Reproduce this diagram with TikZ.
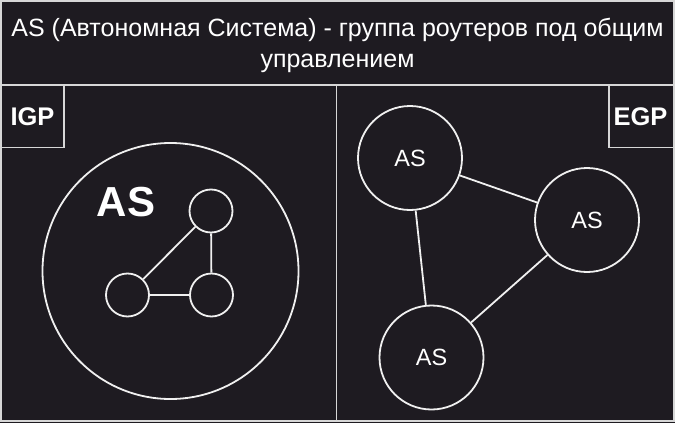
\documentclass[tikz,border=0pt]{standalone}
\usepackage{fontspec}
\setmainfont{Liberation Sans}
\definecolor{bg}{RGB}{30,27,33}
\definecolor{ln}{RGB}{240,240,240}
\definecolor{fr}{RGB}{215,215,215}
\begin{document}
\begin{tikzpicture}[x=1pt,y=-1pt,
  frame/.style={draw=fr,line width=1.8pt},
  circ/.style={circle,draw=ln,line width=1.8pt,inner sep=0pt},
  link/.style={draw=ln,line width=1.8pt},
  lbl/.style={text=white,font=\fontsize{23.5}{26}\selectfont}]
\fill[bg] (0,0) rectangle (675,423);
\useasboundingbox (0,0) rectangle (675,423);
% frames
\draw[frame] (1,1) rectangle (674,421);
\draw[frame] (1,85) -- (674,85);
\draw[frame] (336.5,85) -- (336.5,421);
\draw[frame] (1,85) rectangle (64,147.5);
\draw[frame] (609,85) rectangle (674,147.5);
\node[text=white,font=\bfseries\fontsize{25.5}{28}\selectfont] (igpt) at (32.5,116.5) {IGP};
\node[text=white,font=\bfseries\fontsize{25.5}{28}\selectfont] (egpt) at (640.5,116.5) {EGP};
% title
\node[text=white,align=center,font=\fontsize{25}{31}\selectfont] (title) at (337.5,45) {AS (Автономная Система) - группа роутеров под общим\\управлением};
% left: big AS
\node[circ,minimum size=256pt] (big) at (170.5,271) {};
\node[text=white,font=\bfseries\fontsize{42}{44}\selectfont] (bigas) at (126,202) {AS};
\node[circ,minimum size=43pt] (r1) at (211,211) {};
\node[circ,minimum size=43pt] (r2) at (127.5,295) {};
\node[circ,minimum size=43pt] (r3) at (211.5,295) {};
\draw[link] (r1) -- (r2);
\draw[link] (r1) -- (r3);
\draw[link] (r2) -- (r3);
% right: AS graph
\node[circ,minimum size=104pt,lbl] (a1) at (410,158) {AS};
\node[circ,minimum size=104pt,lbl] (a2) at (587,220) {AS};
\node[circ,minimum size=104pt,lbl] (a3) at (431.5,357.5) {AS};
\draw[link] (a1) -- (a2);
\draw[link] (a1) -- (a3);
\draw[link] (a2) -- (a3);
\end{tikzpicture}
\end{document}
